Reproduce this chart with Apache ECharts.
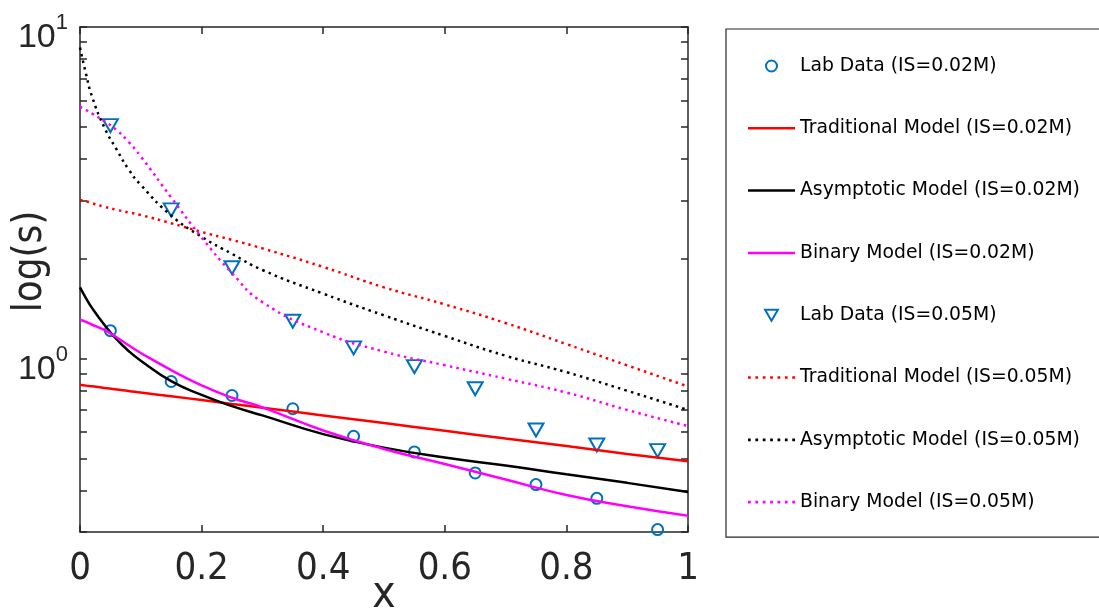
<!DOCTYPE html>
<html>
<head>
<meta charset="utf-8">
<script src="https://cdn.jsdelivr.net/npm/echarts@6/dist/echarts.min.js"></script>
<style>
  html, body { margin: 0; padding: 0; background: #fff; }
  #chart { width: 1099px; height: 612px; }
</style>
</head>
<body>
<div id="chart"></div>
<script>
// lab measurements
const xLab = [0.05, 0.15, 0.25, 0.35, 0.45, 0.55, 0.65, 0.75, 0.85, 0.95];
const lab002 = [1.214, 0.853, 0.774, 0.706, 0.583, 0.523, 0.452, 0.417, 0.379, 0.305];
const lab005 = [5.04, 2.81, 1.88, 1.296, 1.077, 0.946, 0.811, 0.609, 0.549, 0.528];

// model curves
const xFit = [0, 0.01, 0.02, 0.04, 0.06, 0.08, 0.1, 0.15, 0.2, 0.25, 0.3, 0.4, 0.5, 0.6, 0.7, 0.8, 0.9, 1.0];
const trad002 = [0.834, 0.829, 0.825, 0.816, 0.807, 0.799, 0.790, 0.770, 0.750, 0.730, 0.711, 0.674, 0.639, 0.606, 0.574, 0.545, 0.516, 0.490];
const asym002 = [1.64, 1.52, 1.42, 1.265, 1.145, 1.054, 0.985, 0.855, 0.777, 0.719, 0.674, 0.592, 0.539, 0.503, 0.476, 0.448, 0.422, 0.396];
const bin002 = [1.31, 1.29, 1.265, 1.22, 1.16, 1.097, 1.04, 0.923, 0.83, 0.762, 0.713, 0.607, 0.534, 0.481, 0.432, 0.388, 0.359, 0.336];
const trad005 = [3.01, 2.98, 2.94, 2.87, 2.81, 2.76, 2.71, 2.56, 2.41, 2.28, 2.15, 1.89, 1.64, 1.457, 1.28, 1.106, 0.954, 0.824];
const asym005 = [8.67, 7.2, 6.15, 4.98, 4.28, 3.72, 3.34, 2.70, 2.33, 2.07, 1.85, 1.57, 1.35, 1.17, 1.02, 0.91, 0.80, 0.70];
const bin005 = [5.75, 5.62, 5.48, 5.20, 4.89, 4.50, 4.07, 3.06, 2.32, 1.81, 1.48, 1.20, 1.05, 0.955, 0.87, 0.79, 0.70, 0.626];

// axis ticks
const yTicks = [0.3, 0.4, 0.5, 0.6, 0.7, 0.8, 0.9, 1, 2, 3, 4, 5, 6, 7, 8, 9, 10];
const yLabelVals = [1, 10];
const yLabelExp = ["0", "1"];

const names = [
  "Lab Data (IS=0.02M)",
  "Traditional Model (IS=0.02M)",
  "Asymptotic Model (IS=0.02M)",
  "Binary Model (IS=0.02M)",
  "Lab Data (IS=0.05M)",
  "Traditional Model (IS=0.05M)",
  "Asymptotic Model (IS=0.05M)",
  "Binary Model (IS=0.05M)",
];

const pairs = (xs, ys) => xs.map((x, i) => [x, ys[i]]);
const axisColor = "#262626";
const blue = "#0072BD";
const dots = [2.5, 4.2];
const axisFont = "'Liberation Sans Narrow', 'DejaVu Sans Condensed', 'Liberation Sans', sans-serif";

// legend icons: a solid bar, a row of square dots, a down triangle
const solidIcon = "path://M0,0 H47 V2.5 H0 Z";
let dotPath = "path://";
for (let i = 0; i < 7; i++) {
  const x0 = i * 6.75;
  dotPath += "M" + x0 + ",0 H" + (x0 + 2.5) + " V2.5 H" + x0 + " Z ";
}
const dotIcon = dotPath.trim();
const triIcon = "path://M0,0 L14,0 L7,12 Z";
const legendIcons = ["circle", solidIcon, solidIcon, solidIcon, triIcon, dotIcon, dotIcon, dotIcon];

function lab(name, ys, symbol, size, rotate) {
  return {
    type: "scatter",
    name: name,
    data: pairs(xLab, ys),
    symbol: symbol,
    symbolSize: size,
    symbolRotate: rotate,
    itemStyle: { color: "rgba(255,255,255,0)", borderColor: blue, borderWidth: 2, opacity: 1 },
  };
}

function curve(name, ys, color, dash) {
  return {
    type: "line",
    name: name,
    data: pairs(xFit, ys),
    showSymbol: false,
    symbol: "none",
    smooth: 0.5,
    itemStyle: { color: color },
    lineStyle: { color: color, width: 2.5, type: dash, cap: "butt" },
  };
}

const chart = echarts.init(document.getElementById("chart"));

const xBase = {
  type: "value",
  min: 0,
  max: 1,
  interval: 0.2,
  splitLine: { show: false },
  axisLine: { show: true, onZero: false, lineStyle: { color: axisColor, width: 1.5 } },
  axisTick: { show: true, inside: true, length: 7, lineStyle: { color: axisColor, width: 1.5 } },
};

const yBase = {
  type: "log",
  logBase: 10,
  min: 0.3,
  max: 10,
  splitLine: { show: false },
  minorTick: { show: false },
  axisLine: { show: true, onZero: false, lineStyle: { color: axisColor, width: 1.5 } },
  axisTick: { show: true, inside: true, length: 7, customValues: yTicks, lineStyle: { color: axisColor, width: 1.5 } },
};

chart.setOption({
  animation: false,
  backgroundColor: "#fff",
  grid: { left: 80, top: 27, right: 411, bottom: 80, containLabel: false, outerBoundsMode: "none" },
  legend: {
    orient: "vertical",
    left: 726,
    top: 29,
    padding: [27, 40, 25, 22],
    itemWidth: 47,
    itemHeight: 11,
    itemGap: 42.3,
    symbolKeepAspect: true,
    borderColor: axisColor,
    borderWidth: 1.2,
    selectedMode: false,
    data: names.map((n, i) => ({ name: n, icon: legendIcons[i] })),
    textStyle: { fontFamily: "DejaVu Sans", fontSize: 18.8, color: "#000", lineHeight: 20 },
  },
  xAxis: [
    Object.assign({}, xBase, {
      position: "bottom",
      name: "x",
      nameLocation: "middle",
      nameGap: 42,
      nameMoveOverlap: false,
      nameTextStyle: { fontFamily: axisFont, fontSize: 44, color: axisColor },
      axisLabel: { fontFamily: axisFont, fontSize: 38, color: axisColor, margin: 18 },
    }),
    Object.assign({}, xBase, { position: "top", axisLabel: { show: false } }),
  ],
  yAxis: [
    Object.assign({}, yBase, {
      position: "left",
      name: "log(s)",
      nameLocation: "middle",
      nameGap: 29,
      nameMoveOverlap: false,
      nameTextStyle: { fontFamily: axisFont, fontSize: 40, color: axisColor, padding: [0, 0, 0, 36] },
      axisLabel: {
        customValues: yLabelVals,
        margin: 12,
        padding: [10, 0, 0, 0],
        formatter: (v) => {
          const e = Math.round(Math.log10(v));
          return "{b|10}{s|" + yLabelExp[e] + "}";
        },
        rich: {
          b: { fontFamily: "Liberation Sans", fontSize: 34, color: axisColor, padding: [12, 0, 0, 0] },
          s: { fontFamily: "Liberation Sans", fontSize: 22, color: axisColor, verticalAlign: "top", padding: [3, 0, 0, 0] },
        },
      },
    }),
    Object.assign({}, yBase, { position: "right", axisLabel: { show: false } }),
  ],
  series: [
    lab(names[0], lab002, "circle", 11, 0),
    curve(names[1], trad002, "#FF0000", "solid"),
    curve(names[2], asym002, "#000000", "solid"),
    curve(names[3], bin002, "#FF00FF", "solid"),
    lab(names[4], lab005, "triangle", [15, 13], 180),
    curve(names[5], trad005, "#FF0000", dots),
    curve(names[6], asym005, "#000000", dots),
    curve(names[7], bin005, "#FF00FF", dots),
  ],
});
</script>
</body>
</html>
